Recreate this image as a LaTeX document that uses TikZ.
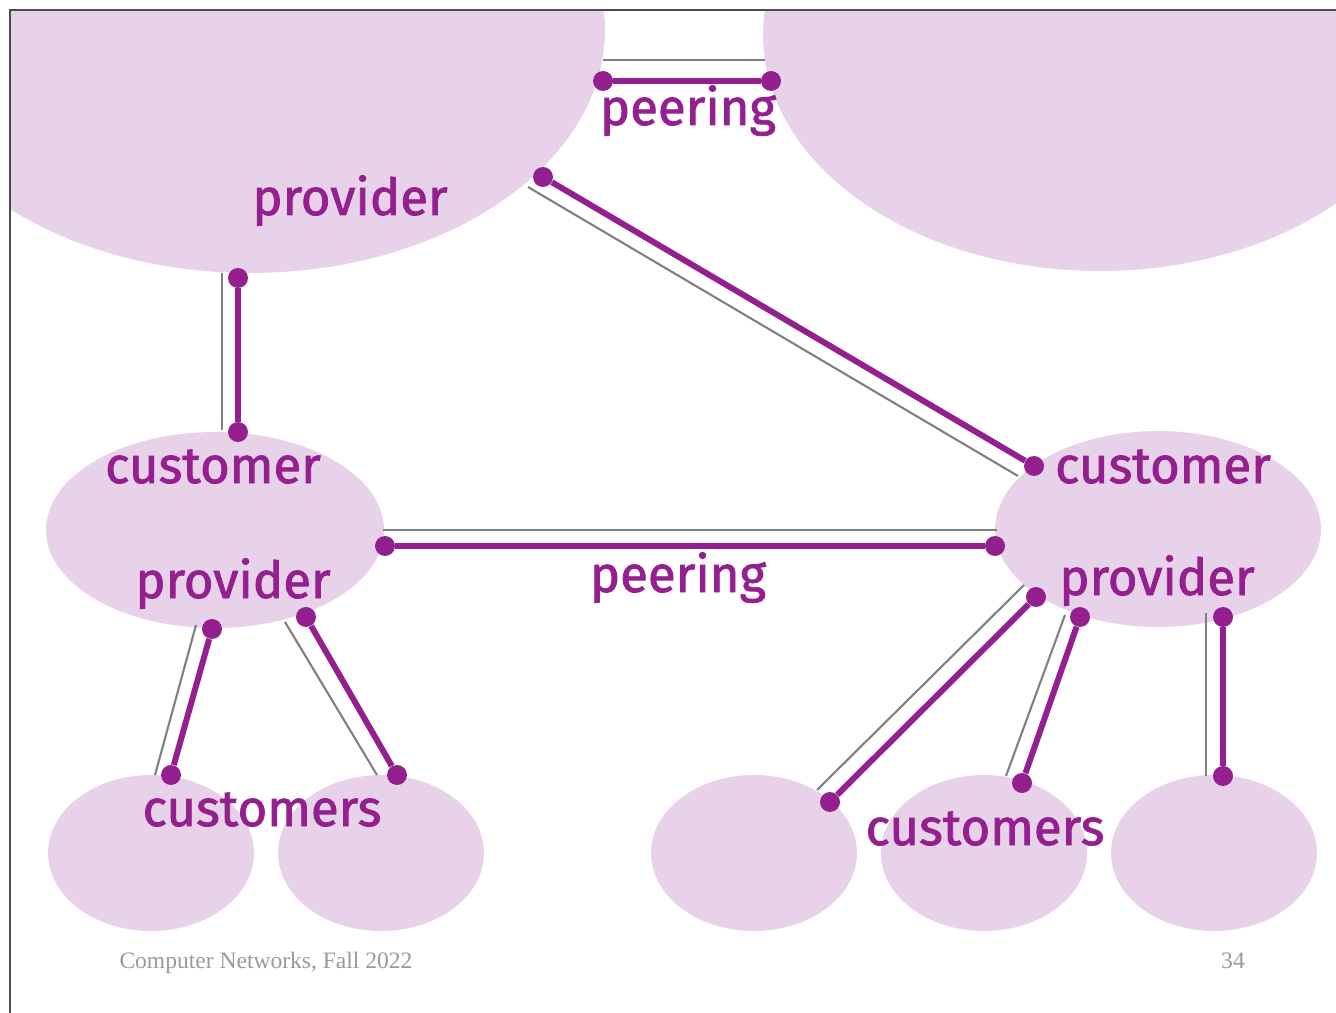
\documentclass[tikz,border=0pt]{standalone}
\usepackage{fontspec}
\setmainfont{Liberation Serif}
\newfontfamily\handfont[FakeBold=1.6]{Fira Sans}
\usepackage{tikz}
\usetikzlibrary{shapes.geometric}
\definecolor{aslilac}{RGB}{232,210,233}
\definecolor{aspurple}{RGB}{148,32,144}
\tikzset{as/.style={ellipse,fill=aslilac,inner sep=0pt}}
\tikzset{bigas/.style={as,minimum width=14.2cm,minimum height=9.72cm}}
\tikzset{midas/.style={as,minimum width=6.6cm,minimum height=3.92cm}}
\tikzset{smallas/.style={as,minimum width=4.12cm,minimum height=3.12cm}}
\tikzset{tag/.style={text=aspurple,anchor=base,inner sep=0pt,
                     font=\handfont\fontsize{29}{32}\selectfont}}
\tikzset{link/.style={aspurple,line width=3.4pt}}
\tikzset{rail/.style={gray,line width=1.2pt}}
\tikzset{dot/.style={circle,fill=aspurple,inner sep=0pt,minimum size=0.4cm}}
\tikzset{foot/.style={text=black!40,anchor=base,font=\fontsize{13.4}{15}\selectfont}}

\begin{document}
\begin{tikzpicture}[x=0.02cm,y=-0.02cm]
    \useasboundingbox (0,0) rectangle (1336,1013);

    % tier-1 networks
    \begin{scope}
      \clip (10,10) rectangle (1336,1013);
      \node[bigas] (top1) at (250,30) {};
      \node[bigas,minimum width=13.48cm,minimum height=9.44cm] (top2) at (1100,35) {};
    \end{scope}
    \draw[black!70,line width=0.6pt] (10,1013) -- (10,10) -- (1336,10);

    % middle networks
    \node[midas,minimum width=6.76cm] (mid1) at (215,530) {};
    \node[midas,minimum width=6.52cm] (mid2) at (1158,529) {};

    % stub networks
    \foreach \x [count=\i] in {151,381,754,984,1214}{
      \node[smallas] (stub\i) at (\x,853) {};
    }

    % gray rails
    \foreach \xa/\ya/\xb/\yb [count=\i] in {603/60/765/60, 528/187/1018/476,
        222/273/222/430, 383/530/997/530, 196/625/155/775, 285/622/377/775,
        1024/585/817/790, 1065/615/1006/776, 1206/613/1206/776}{
      \coordinate (ga\i) at (\xa,\ya);
      \coordinate (gb\i) at (\xb,\yb);
      \draw[rail] (ga\i) -- (gb\i);
    }

    % purple links
    \foreach \xa/\ya/\xb/\yb [count=\i] in {603/81/771/81, 543/177/1034/466,
        238/278/238/432, 385/546/995/546, 212/629/171/775, 306/617/397/775,
        1036/597/830/802, 1080/617/1022/783, 1223/617/1223/776}{
      \node[dot] (la\i) at (\xa,\ya) {};
      \node[dot] (lb\i) at (\xb,\yb) {};
      \draw[link] (la\i) -- (lb\i);
    }

    % labels
    \node[tag] (peer1) at (688,125) {peering};
    \node[tag] (prov1) at (350,215) {provider};
    \node[tag] (cust1) at (213,483) {customer};
    \node[tag] (prov2) at (233,598) {provider};
    \node[tag] (cust2) at (1163,483) {customer};
    \node[tag] (prov3) at (1157,595) {provider};
    \node[tag] (peer2) at (678,592) {peering};
    \node[tag] (custs1) at (262,826) {customers};
    \node[tag] (custs2) at (985,845) {customers};

    % footer
    \node[foot] (course) at (266,968) {Computer Networks, Fall 2022};
    \node[foot] (page) at (1233,968) {34};
\end{tikzpicture}
\end{document}
